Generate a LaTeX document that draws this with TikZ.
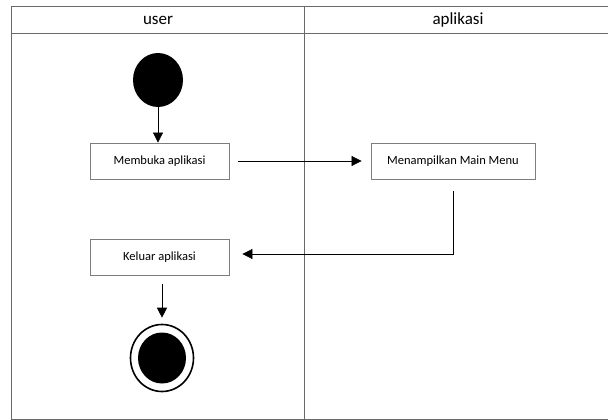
\documentclass[tikz,border=0pt]{standalone}
\usepackage{fontspec}
\setmainfont{Carlito}
\usepackage{tikz}
\usetikzlibrary{arrows.meta, shapes.geometric}
\usepackage{xcolor}
\definecolor{lanegray}{RGB}{105,105,105}
\definecolor{boxgray}{RGB}{125,125,125}

\tikzset{
  act/.style={draw=boxgray, line width=0.8pt, minimum width=139pt, minimum height=36pt, inner sep=0pt, font=\fontsize{12.5}{14}\selectfont},
  flow/.style={-{Triangle[width=10pt,length=10pt]}, black, line width=0.7pt},
  lane/.style={draw=lanegray, line width=1pt},
  head/.style={font=\fontsize{17}{19}\selectfont}
}

\begin{document}
\begin{tikzpicture}[x=1pt, y=-1pt]
  \useasboundingbox (0,0) rectangle (608,420);
  \clip (0,0) rectangle (608,420);
  \draw[lane] (11.5,7) rectangle (615,419);
  \draw[lane] (11.5,34) -- (615,34);
  \draw[lane] (304,7) -- (304,419);
  \node[head] (huser) at (158,20) {user};
  \node[head] (happ) at (458,20) {aplikasi};
  \node[ellipse, fill=black, minimum width=50pt, minimum height=54pt, inner sep=0pt] (start) at (158,80) {};
  \node[act] (buka) at (159.5,161) {Membuka aplikasi};
  \node[act, minimum width=164pt] (menu) at (453,161) {Menampilkan Main Menu};
  \node[act] (keluar) at (159.5,257) {Keluar aplikasi};
  \node[ellipse, draw=black, line width=1.6pt, minimum width=63pt, minimum height=67pt, inner sep=0pt] (stop) at (162,358) {};
  \node[ellipse, fill=black, minimum width=48pt, minimum height=51pt, inner sep=0pt] (stopdot) at (stop) {};
  \draw[flow] (start.south) -- (start.south |- buka.north);
  \draw[flow, shorten <=9pt, shorten >=9pt] (buka.east) -- (menu.west);
  \draw[flow, shorten <=12pt, shorten >=13pt] (menu.south) |- ([yshift=3pt]keluar.east);
  \draw[flow, shorten <=9pt, shorten >=6pt] (keluar.south -| stop.north) -- (stop.north);
\end{tikzpicture}
\end{document}
